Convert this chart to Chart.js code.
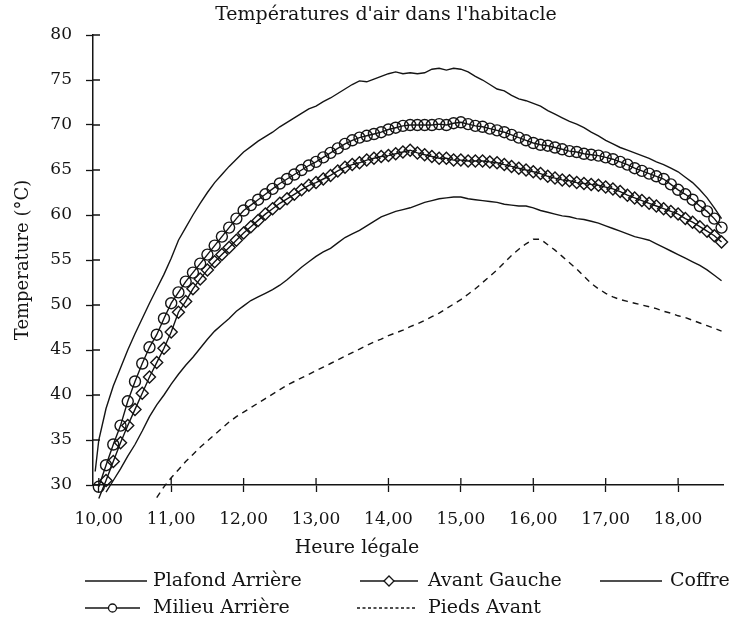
<!DOCTYPE html>
<html>
<head>
<meta charset="utf-8">
<title>Températures d'air dans l'habitacle</title>
<script src="https://cdn.jsdelivr.net/npm/chart.js@4.4.1/dist/chart.umd.min.js"></script>
<style>
  html, body { margin: 0; padding: 0; background: #fff; }
  #wrap { width: 739px; height: 628px; }
</style>
</head>
<body>
<div id="wrap"><canvas id="temp-chart" width="739" height="628"></canvas></div>
<script>
// heure légale, every 6 minutes (plus one reading just before 10h)
const hours = [
  9.95,
  10.0, 10.1, 10.2, 10.3, 10.4, 10.5, 10.6, 10.7, 10.8, 10.9,
  11.0, 11.1, 11.2, 11.3, 11.4, 11.5, 11.6, 11.7, 11.8, 11.9,
  12.0, 12.1, 12.2, 12.3, 12.4, 12.5, 12.6, 12.7, 12.8, 12.9,
  13.0, 13.1, 13.2, 13.3, 13.4, 13.5, 13.6, 13.7, 13.8, 13.9,
  14.0, 14.1, 14.2, 14.3, 14.4, 14.5, 14.6, 14.7, 14.8, 14.9,
  15.0, 15.1, 15.2, 15.3, 15.4, 15.5, 15.6, 15.7, 15.8, 15.9,
  16.0, 16.1, 16.2, 16.3, 16.4, 16.5, 16.6, 16.7, 16.8, 16.9,
  17.0, 17.1, 17.2, 17.3, 17.4, 17.5, 17.6, 17.7, 17.8, 17.9,
  18.0, 18.1, 18.2, 18.3, 18.4, 18.5, 18.6
];

const plafondArriere = [
  31.5,
  35.0, 38.5, 41.0, 43.0, 45.0, 46.8, 48.5, 50.2, 51.8, 53.4,
  55.2, 57.2, 58.6, 60.0, 61.3, 62.5, 63.6, 64.5, 65.4, 66.2,
  67.0, 67.6, 68.2, 68.7, 69.2, 69.8, 70.3, 70.8, 71.3, 71.8,
  72.1, 72.6, 73.0, 73.5, 74.0, 74.5, 74.9, 74.8, 75.1, 75.4,
  75.7, 75.9, 75.7, 75.8, 75.7, 75.8, 76.2, 76.3, 76.1, 76.3,
  76.2, 75.9, 75.4, 75.0, 74.5, 74.0, 73.8, 73.3, 72.9, 72.7,
  72.4, 72.1, 71.6, 71.2, 70.8, 70.4, 70.1, 69.7, 69.2, 68.8,
  68.3, 67.9, 67.5, 67.2, 66.9, 66.6, 66.3, 65.9, 65.6, 65.2,
  64.8, 64.2, 63.6, 62.8, 61.9, 60.8, 59.6
];

const avantGauche = [
  null,
  28.5, 30.5, 32.6, 34.7, 36.6, 38.4, 40.2, 42.0, 43.6, 45.2,
  47.0, 49.2, 50.4, 51.8, 52.9, 53.9, 54.8, 55.6, 56.4, 57.2,
  58.0, 58.7, 59.4, 60.1, 60.7, 61.3, 61.8, 62.3, 62.8, 63.3,
  63.6, 64.0, 64.4, 64.9, 65.3, 65.6, 65.8, 66.1, 66.3, 66.5,
  66.6, 66.8, 67.0, 67.2, 66.9, 66.7, 66.5, 66.3, 66.3, 66.1,
  66.1, 66.0, 66.0, 66.0, 65.9, 65.8, 65.6, 65.4, 65.2, 65.0,
  64.8, 64.6, 64.3, 64.1, 63.9, 63.8, 63.6, 63.5, 63.4, 63.3,
  63.1, 62.9, 62.6, 62.2, 61.9, 61.6, 61.3, 61.0, 60.7, 60.4,
  60.1, 59.6, 59.2, 58.7, 58.2, 57.7, 57.0
];

const coffre = [
  null,
  null, 29.2, 30.5, 31.8, 33.2, 34.5, 36.0, 37.6, 38.9, 40.0,
  41.2, 42.3, 43.3, 44.2, 45.2, 46.2, 47.1, 47.8, 48.5, 49.3,
  49.9, 50.5, 50.9, 51.3, 51.7, 52.2, 52.8, 53.5, 54.2, 54.8,
  55.4, 55.9, 56.3, 56.9, 57.5, 57.9, 58.3, 58.8, 59.3, 59.8,
  60.1, 60.4, 60.6, 60.8, 61.1, 61.4, 61.6, 61.8, 61.9, 62.0,
  62.0, 61.8, 61.7, 61.6, 61.5, 61.4, 61.2, 61.1, 61.0, 61.0,
  60.8, 60.5, 60.3, 60.1, 59.9, 59.8, 59.6, 59.5, 59.3, 59.1,
  58.8, 58.5, 58.2, 57.9, 57.6, 57.4, 57.2, 56.8, 56.4, 56.0,
  55.6, 55.2, 54.8, 54.4, 53.9, 53.3, 52.7
];

const milieuArriere = [
  null,
  29.8, 32.2, 34.5, 36.6, 39.3, 41.5, 43.5, 45.3, 46.7, 48.5,
  50.2, 51.4, 52.6, 53.6, 54.6, 55.6, 56.6, 57.6, 58.6, 59.6,
  60.5, 61.1, 61.7, 62.3, 62.9, 63.5, 64.0, 64.5, 65.0, 65.5,
  65.9, 66.4, 66.9, 67.4, 67.9, 68.3, 68.6, 68.8, 69.0, 69.2,
  69.5, 69.7, 69.9, 70.0, 70.0, 70.0, 70.0, 70.1, 70.0, 70.2,
  70.3, 70.1, 69.9, 69.8, 69.6, 69.4, 69.2, 68.9, 68.6, 68.3,
  68.0, 67.8, 67.7, 67.5, 67.3, 67.1, 67.0, 66.8, 66.7, 66.6,
  66.4, 66.2, 65.9, 65.6, 65.2, 64.9, 64.6, 64.3, 64.0, 63.4,
  62.8, 62.3, 61.7, 61.0, 60.4, 59.6, 58.6
];

const piedsAvant = [
  null,
  null, null, null, null, null, null, null, null, 28.6, 29.8,
  30.8, 31.7, 32.6, 33.4, 34.2, 34.9, 35.6, 36.3, 37.0, 37.6,
  38.1, 38.6, 39.1, 39.6, 40.1, 40.6, 41.1, 41.5, 41.9, 42.3,
  42.7, 43.1, 43.5, 43.9, 44.3, 44.7, 45.1, 45.5, 45.9, 46.2,
  46.6, 46.9, 47.2, 47.6, 47.9, 48.3, 48.7, 49.1, 49.6, 50.1,
  50.6, 51.2, 51.8, 52.5, 53.2, 53.9, 54.7, 55.5, 56.2, 56.8,
  57.3, 57.3, 56.7, 56.1, 55.4, 54.7, 54.0, 53.2, 52.4, 51.8,
  51.3, 50.9, 50.6, 50.4, 50.2, 50.0, 49.8, 49.6, 49.3, 49.1,
  48.8, 48.6, 48.3, 48.0, 47.7, 47.4, 47.1
];

const seriesNames = ['Plafond Arrière', 'Avant Gauche', 'Coffre', 'Milieu Arrière', 'Pieds Avant'];
const xTicks = [10, 11, 12, 13, 14, 15, 16, 17, 18];
const yTicks = [30, 35, 40, 45, 50, 55, 60, 65, 70, 75, 80];
const chartTitle = "Températures d'air dans l'habitacle";
const xTitle = 'Heure légale';
const yTitle = 'Temperature (°C)';

const ink = '#141414';
const serif = "'DejaVu Serif', 'Liberation Serif', serif";

const toPoints = values => hours.map((h, i) => ({ x: h, y: values[i] }));

const lineBase = {
  borderColor: ink,
  borderWidth: 1.4,
  pointRadius: 0,
  tension: 0,
  spanGaps: false,
  clip: { left: 10, top: 0, right: 10, bottom: 14 },
};

const datasets = [
  Object.assign({}, lineBase, { label: seriesNames[0], data: toPoints(plafondArriere) }),
  Object.assign({}, lineBase, {
    label: seriesNames[1], data: toPoints(avantGauche),
    pointStyle: 'rectRot', pointRadius: 6, pointBorderWidth: 1.4,
    pointBorderColor: ink, pointBackgroundColor: 'rgba(0,0,0,0)',
  }),
  Object.assign({}, lineBase, { label: seriesNames[2], data: toPoints(coffre) }),
  Object.assign({}, lineBase, {
    label: seriesNames[3], data: toPoints(milieuArriere),
    pointStyle: 'circle', pointRadius: 5.5, pointBorderWidth: 1.4,
    pointBorderColor: ink, pointBackgroundColor: 'rgba(0,0,0,0)',
  }),
  Object.assign({}, lineBase, { label: seriesNames[4], data: toPoints(piedsAvant), borderDash: [6, 5] }),
];

// legend slots: sample line from x0 to x1, text starting at tx
const legendSlots = [
  { x0: 85, x1: 147, tx: 153, y: 581 },
  { x0: 360, x1: 418, tx: 428, y: 581 },
  { x0: 600, x1: 662, tx: 670, y: 581 },
  { x0: 85, x1: 140, tx: 153, y: 608 },
  { x0: 357, x1: 417, tx: 428, y: 608 },
];

const decorPlugin = {
  id: 'decor',
  afterDraw(chart) {
    const { ctx, scales: { x, y } } = chart;
    ctx.save();

    // inner half of the crossing tick marks
    ctx.strokeStyle = ink;
    ctx.lineWidth = 1.3;
    ctx.beginPath();
    x.ticks.forEach(t => {
      const px = x.getPixelForValue(t.value);
      ctx.moveTo(px, x.top);
      ctx.lineTo(px, x.top - 7);
    });
    y.ticks.forEach(t => {
      const py = y.getPixelForValue(t.value);
      ctx.moveTo(y.right, py);
      ctx.lineTo(y.right + 7, py);
    });
    ctx.stroke();

    ctx.fillStyle = ink;
    ctx.textBaseline = 'middle';
    ctx.textAlign = 'center';
    ctx.font = '19px ' + serif;
    ctx.fillText(chartTitle, 386, 15);
    ctx.fillText(xTitle, 357, 548);

    // legend
    ctx.textAlign = 'left';
    ctx.font = '19px ' + serif;
    chart.data.datasets.forEach((ds, i) => {
      const s = legendSlots[i];
      ctx.beginPath();
      ctx.lineWidth = 1.4;
      ctx.setLineDash(ds.borderDash ? [3, 2.5] : []);
      ctx.moveTo(s.x0, s.y);
      ctx.lineTo(s.x1, s.y);
      ctx.stroke();
      ctx.setLineDash([]);
      if (ds.pointRadius > 0) {
        ctx.fillStyle = '#fff';
        ctx.strokeStyle = ink;
        ctx.lineWidth = 1.3;
        Chart.helpers.drawPoint(ctx, {
          pointStyle: ds.pointStyle,
          radius: ds.pointStyle === 'circle' ? 4 : 5,
          rotation: 0,
          borderWidth: 1.3,
        }, (s.x0 + s.x1) / 2, s.y);
      }
      ctx.fillStyle = ink;
      ctx.fillText(ds.label, s.tx, s.y);
    });
    ctx.restore();
  }
};

const tickFont = { family: serif, size: 17 };

new Chart(document.getElementById('temp-chart').getContext('2d'), {
  type: 'line',
  data: { datasets },
  plugins: [decorPlugin],
  options: {
    responsive: false,
    animation: false,
    devicePixelRatio: 1,
    layout: { padding: { left: 0, right: 16, top: 35, bottom: 95 } },
    plugins: {
      legend: { display: false },
      title: { display: false },
      tooltip: { enabled: false },
    },
    scales: {
      x: {
        type: 'linear',
        min: 9.92,
        max: 18.62,
        afterBuildTicks: s => { s.ticks = xTicks.map(v => ({ value: v })); },
        afterFit: s => { s.height = 48; },
        grid: { drawOnChartArea: false, drawTicks: true, tickLength: 7, tickColor: ink, tickWidth: 1.3 },
        border: { display: true, color: ink, width: 1.5 },
        ticks: {
          color: ink, font: tickFont, padding: 17, maxRotation: 0, autoSkip: false,
          callback: v => v.toFixed(2).replace('.', ','),
        },
      },
      y: {
        type: 'linear',
        min: 30,
        max: 80,
        afterBuildTicks: s => { s.ticks = yTicks.map(v => ({ value: v })); },
        afterFit: s => { s.width = 93; },
        grid: { drawOnChartArea: false, drawTicks: true, tickLength: 7, tickColor: ink, tickWidth: 1.3 },
        border: { display: true, color: ink, width: 1.5 },
        ticks: { color: ink, font: tickFont, padding: 14 },
        title: {
          display: true, text: yTitle, color: ink,
          font: { family: serif, size: 18 },
          padding: { top: 13, bottom: 0 },
        },
      },
    },
  },
});
</script>
</body>
</html>
